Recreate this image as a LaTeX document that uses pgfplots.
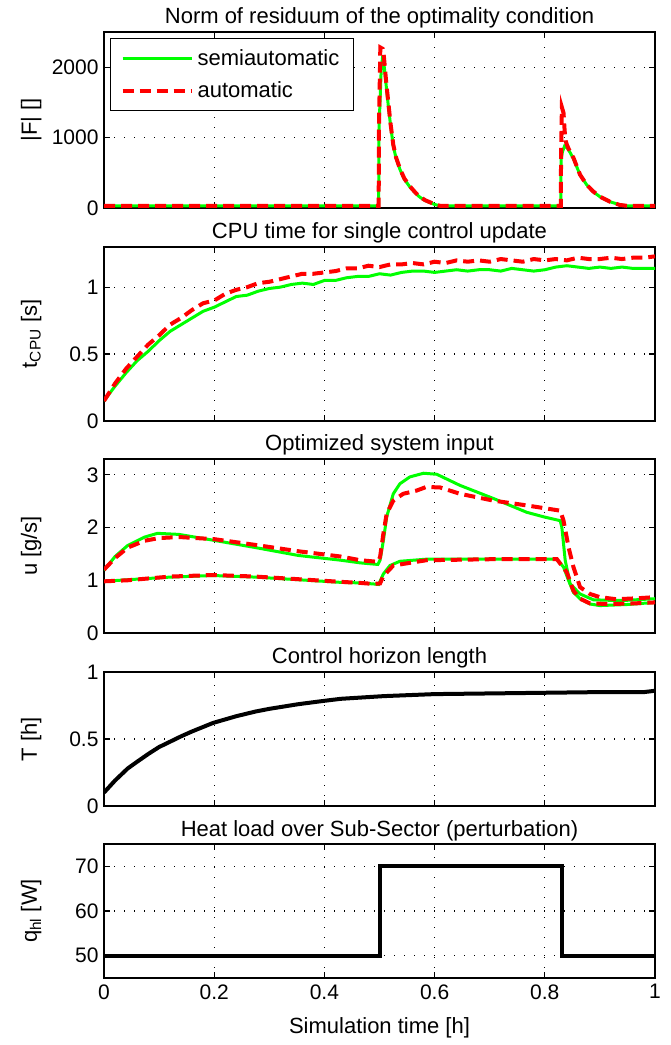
\documentclass[border=0pt]{standalone}
\usepackage{fontspec}
\setmainfont{Liberation Sans}
\usepackage{pgfplots}
\pgfplotsset{compat=1.18}

\definecolor{mgreen}{RGB}{0,255,0}
\definecolor{mred}{RGB}{255,0,0}

\newcommand{\lblfont}{\fontsize{22}{26}\selectfont}
\newcommand{\tckfont}{\fontsize{21}{25}\selectfont}

\pgfplotsset{
  panel/.style={
    scale only axis, width=551pt, anchor=south west,
    xmin=0, xmax=1,
    xtick={0,0.2,0.4,0.6,0.8,1}, xticklabels={},
    tick align=inside, major tick length=6pt,
    tick style={black, line width=1.2pt},
    axis line style={line width=1.6pt},
    grid=major,
    major grid style={black, line width=1.2pt, dash pattern=on 1.2pt off 8.8pt},
    title style={at={(axis description cs:0.5,1)}, anchor=base, yshift=2pt, font=\lblfont},
    ylabel style={at={(axis description cs:-0.1216,0.5)}, anchor=base, font=\lblfont},
    tick label style={font=\tckfont},
    yticklabel style={xshift=-2pt},
    xticklabel style={yshift=-3pt},
    /pgf/number format/assume math mode=true,
    /pgf/number format/1000 sep={},
    scaled ticks=false,
  },
  sa/.style={mgreen, line width=3pt},
  au/.style={mred, line width=4pt, dash pattern=on 11pt off 6pt},
}

\begin{document}
\begin{tikzpicture}
\useasboundingbox (0pt,0pt) rectangle (670pt,1045pt);

% residuum norm
\begin{axis}[panel, at={(104pt,837pt)}, height=176pt,
  ymin=0, ymax=2500, ytick={0,1000,2000},
  title={Norm of residuum of the optimality condition},
  ylabel={|F| []},
  legend style={at={(axis description cs:0.011,0.966)}, anchor=north west,
    draw=black, line width=1pt, font=\lblfont, inner xsep=10pt, inner ysep=9pt,
    row sep=11pt, nodes={inner xsep=4pt}},
  legend cell align=left,
  legend image code/.code={\draw[#1] (0pt,0pt) -- (69pt,0pt);},
]
\addplot[sa] coordinates {(0,30) (0.4985,30) (0.499,1100) (0.503,1950) (0.505,2100)
  (0.508,2050) (0.512,1750) (0.516,1450) (0.520,1180) (0.525,880) (0.530,710)
  (0.537,550) (0.545,410) (0.555,300) (0.565,215) (0.573,155) (0.583,105)
  (0.592,75) (0.600,50) (0.61,30) (0.829,30) (0.8295,690) (0.832,800)
  (0.836,880) (0.840,860) (0.845,800) (0.852,700) (0.864,470) (0.876,330)
  (0.888,230) (0.900,160) (0.918,90) (0.936,45) (0.95,30) (1,30)};
\addlegendentry{semiautomatic}
\addplot[au] coordinates {(0,30) (0.4985,30) (0.499,1100) (0.5015,2280) (0.506,2260)
  (0.508,2150) (0.512,1800) (0.516,1500) (0.520,1200) (0.525,900) (0.530,720)
  (0.537,560) (0.545,420) (0.555,310) (0.565,220) (0.573,160) (0.583,110)
  (0.592,80) (0.600,55) (0.61,30) (0.829,30) (0.8295,690) (0.831,1430)
  (0.834,1350) (0.836,1100) (0.838,950) (0.840,900) (0.845,810) (0.852,713)
  (0.864,473) (0.876,330) (0.888,234) (0.900,162) (0.918,90) (0.936,43)
  (0.95,30) (1,30)};
\addlegendentry{automatic}
\end{axis}

% cpu time
\begin{axis}[panel, at={(104pt,624pt)}, height=174pt,
  ymin=0, ymax=1.3, ytick={0,0.5,1},
  title={CPU time for single control update},
  ylabel={t\textsubscript{CPU} [s]},
]
\addplot[sa] coordinates {(0,0.15) (0.02,0.26) (0.04,0.36) (0.06,0.45) (0.08,0.52)
  (0.10,0.60) (0.12,0.67) (0.14,0.72) (0.16,0.77) (0.18,0.82) (0.20,0.85)
  (0.22,0.89) (0.24,0.93) (0.26,0.94) (0.28,0.97) (0.30,0.99) (0.32,1.00)
  (0.34,1.02) (0.36,1.03) (0.38,1.02) (0.40,1.05) (0.42,1.05) (0.44,1.07)
  (0.46,1.08) (0.48,1.08) (0.50,1.10) (0.52,1.09) (0.54,1.11) (0.56,1.12)
  (0.58,1.12) (0.60,1.11) (0.62,1.12) (0.64,1.13) (0.66,1.12) (0.68,1.13)
  (0.70,1.13) (0.72,1.12) (0.74,1.14) (0.76,1.13) (0.78,1.12) (0.80,1.13)
  (0.82,1.15) (0.84,1.16) (0.86,1.15) (0.88,1.14) (0.90,1.15) (0.92,1.14)
  (0.94,1.15) (0.96,1.14) (0.98,1.14) (1.00,1.14)};
\addplot[au] coordinates {(0,0.15) (0.02,0.28) (0.04,0.39) (0.06,0.48) (0.08,0.57)
  (0.10,0.64) (0.12,0.72) (0.14,0.77) (0.16,0.83) (0.18,0.88) (0.20,0.90)
  (0.22,0.95) (0.24,0.98) (0.26,1.00) (0.28,1.03) (0.30,1.04) (0.32,1.06)
  (0.34,1.08) (0.36,1.10) (0.38,1.10) (0.40,1.11) (0.42,1.12) (0.44,1.14)
  (0.46,1.14) (0.48,1.16) (0.50,1.15) (0.52,1.17) (0.54,1.17) (0.56,1.18)
  (0.58,1.17) (0.60,1.19) (0.62,1.18) (0.64,1.20) (0.66,1.19) (0.68,1.20)
  (0.70,1.19) (0.72,1.21) (0.74,1.20) (0.76,1.19) (0.78,1.21) (0.80,1.20)
  (0.82,1.21) (0.84,1.20) (0.86,1.22) (0.88,1.21) (0.90,1.21) (0.92,1.22)
  (0.94,1.21) (0.96,1.22) (0.98,1.22) (1.00,1.23)};
\end{axis}

% system input
\begin{axis}[panel, at={(104pt,412pt)}, height=174pt,
  ymin=0, ymax=3.3, ytick={0,1,2,3},
  title={Optimized system input},
  ylabel={u [g/s]},
]
\addplot[sa] coordinates {(0,1.19) (0.02,1.45) (0.043,1.66) (0.074,1.82) (0.097,1.89)
  (0.136,1.87) (0.198,1.76) (0.275,1.62) (0.353,1.47) (0.43,1.38) (0.465,1.33)
  (0.497,1.30) (0.501,1.38) (0.507,1.75) (0.513,2.2) (0.525,2.64) (0.537,2.83)
  (0.555,2.96) (0.58,3.03) (0.604,3.01) (0.646,2.80) (0.707,2.55) (0.767,2.29)
  (0.799,2.20) (0.828,2.13) (0.831,2.0) (0.837,1.38) (0.846,0.93) (0.864,0.74)
  (0.888,0.63) (0.918,0.62) (0.949,0.62) (1,0.65)};
\addplot[sa] coordinates {(0,0.98) (0.043,1.01) (0.12,1.06) (0.198,1.09) (0.275,1.06)
  (0.353,1.01) (0.43,0.96) (0.465,0.95) (0.489,0.93) (0.4985,0.92) (0.507,1.12)
  (0.519,1.28) (0.537,1.36) (0.585,1.40) (0.707,1.40) (0.822,1.40) (0.834,1.25)
  (0.843,1.0) (0.852,0.77) (0.864,0.65) (0.882,0.55) (0.9,0.52) (0.949,0.54)
  (1,0.58)};
\addplot[au] coordinates {(0,1.2) (0.02,1.42) (0.043,1.62) (0.074,1.75) (0.1,1.80)
  (0.136,1.82) (0.2,1.78) (0.275,1.67) (0.353,1.55) (0.43,1.45) (0.465,1.38)
  (0.497,1.35) (0.501,1.44) (0.507,1.88) (0.513,2.26) (0.525,2.51) (0.543,2.64)
  (0.567,2.70) (0.585,2.77) (0.61,2.76) (0.646,2.64) (0.707,2.51) (0.767,2.42)
  (0.828,2.32) (0.834,2.13) (0.843,1.63) (0.852,1.25) (0.864,0.87) (0.882,0.74)
  (0.9,0.68) (0.93,0.64) (0.97,0.66) (1,0.68)};
\addplot[au] coordinates {(0,0.98) (0.043,1.0) (0.12,1.07) (0.198,1.10) (0.275,1.07)
  (0.353,1.02) (0.43,0.97) (0.465,0.95) (0.489,0.93) (0.501,0.94) (0.507,1.08)
  (0.525,1.28) (0.555,1.33) (0.585,1.38) (0.707,1.40) (0.822,1.40) (0.84,1.15)
  (0.852,0.8) (0.864,0.65) (0.882,0.56) (0.918,0.55) (0.96,0.56) (1,0.58)};
\end{axis}

% horizon length
\begin{axis}[panel, at={(104pt,239pt)}, height=134pt,
  ymin=0, ymax=1, ytick={0,0.5,1},
  title={Control horizon length},
  ylabel={T [h]},
]
\addplot[black, line width=4pt] coordinates {(0,0.10) (0.02,0.19) (0.043,0.28)
  (0.06,0.33) (0.081,0.39) (0.1,0.44) (0.12,0.48) (0.14,0.52) (0.159,0.555)
  (0.18,0.59) (0.198,0.62) (0.24,0.67) (0.275,0.705) (0.3,0.725) (0.353,0.76)
  (0.4,0.785) (0.43,0.80) (0.508,0.82) (0.6,0.835) (0.7,0.84) (0.8,0.845)
  (0.9,0.85) (0.98,0.85) (1,0.86)};
\end{axis}

% heat load
\begin{axis}[panel, at={(104pt,67pt)}, height=134pt,
  ymin=45, ymax=75, ytick={50,60,70},
  xticklabels={0,0.2,0.4,0.6,0.8,1},
  title={Heat load over Sub-Sector (perturbation)},
  ylabel={q\textsubscript{hl} [W]},
  xlabel={Simulation time [h]},
  xlabel style={at={(axis description cs:0.5,0)}, anchor=base, yshift=-56pt, font=\lblfont},
]
\addplot[black, line width=4pt] coordinates {(0,50) (0.5,50) (0.5,70) (0.832,70)
  (0.832,50) (1,50)};
\end{axis}
\end{tikzpicture}
\end{document}
